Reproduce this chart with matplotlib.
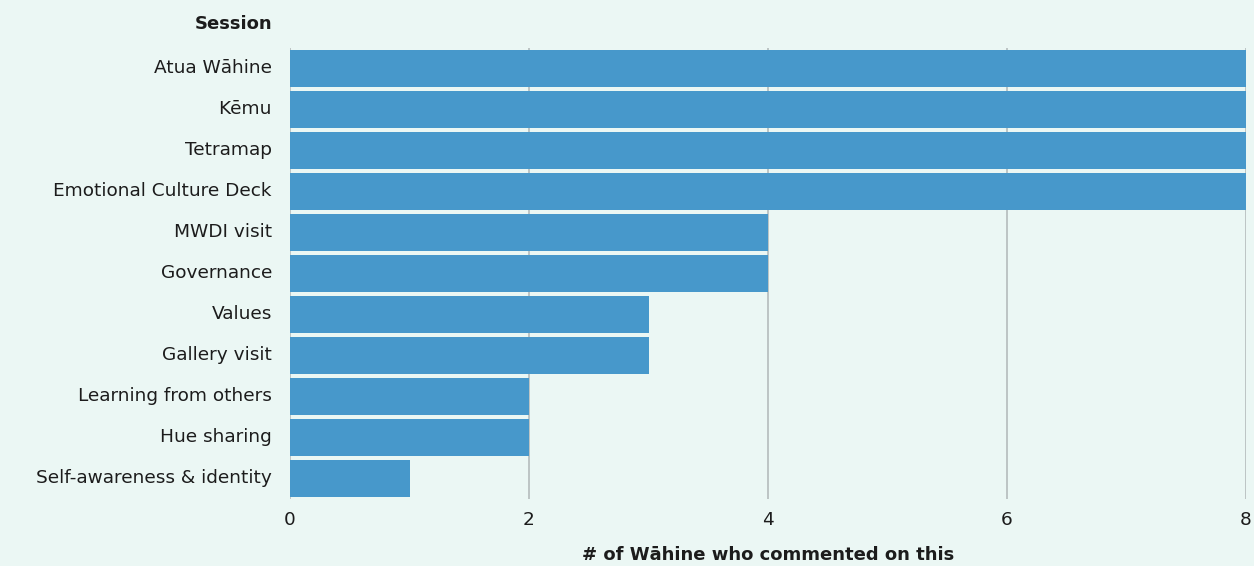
import matplotlib.pyplot as plt

sessions = ['Atua Wāhine', 'Kēmu', 'Tetramap', 'Emotional Culture Deck', 'MWDI visit',
            'Governance', 'Values', 'Gallery visit', 'Learning from others',
            'Hue sharing', 'Self-awareness & identity']
counts = [8, 8, 8, 8, 4, 4, 3, 3, 2, 2, 1]
x_ticks = [0, 2, 4, 6, 8]

bg = '#ebf7f4'
bar_color = '#4798cb'
text_color = '#1c1c1c'

plt.rcParams['font.family'] = ['DejaVu Sans']

fig = plt.figure(figsize=(12.54, 5.66), dpi=100, facecolor=bg)
ax = fig.add_axes([0.2313, 0.1184, 0.7623, 0.797])
ax.set_facecolor(bg)

y = list(range(len(sessions)))
ax.barh(y, counts, height=0.92, color=bar_color, zorder=2)
ax.set_ylim(len(sessions) - 0.5, -0.5)
ax.set_xlim(0, 8)

ax.set_yticks(y)
ax.set_yticklabels(sessions, fontsize=13.3, color=text_color, va='center')
ax.set_xticks(x_ticks)
ax.set_xticklabels([str(t) for t in x_ticks], fontsize=13.3, color=text_color)
ax.tick_params(axis='y', length=0, pad=13)
ax.tick_params(axis='x', length=0, pad=9)

ax.grid(axis='x', color='#b4bcbc', linewidth=1.2, zorder=0)
ax.grid(axis='y', visible=False)
for s in ax.spines.values():
    s.set_visible(False)

ax.set_xlabel('# of Wāhine who commented on this', fontsize=13, fontweight='bold',
              color=text_color, labelpad=12)
ax.text(-0.018, 1.033, 'Session', transform=ax.transAxes, fontsize=13,
        fontweight='bold', color=text_color, ha='right', va='bottom')

fig.savefig('out.png', dpi=100, facecolor=bg)
